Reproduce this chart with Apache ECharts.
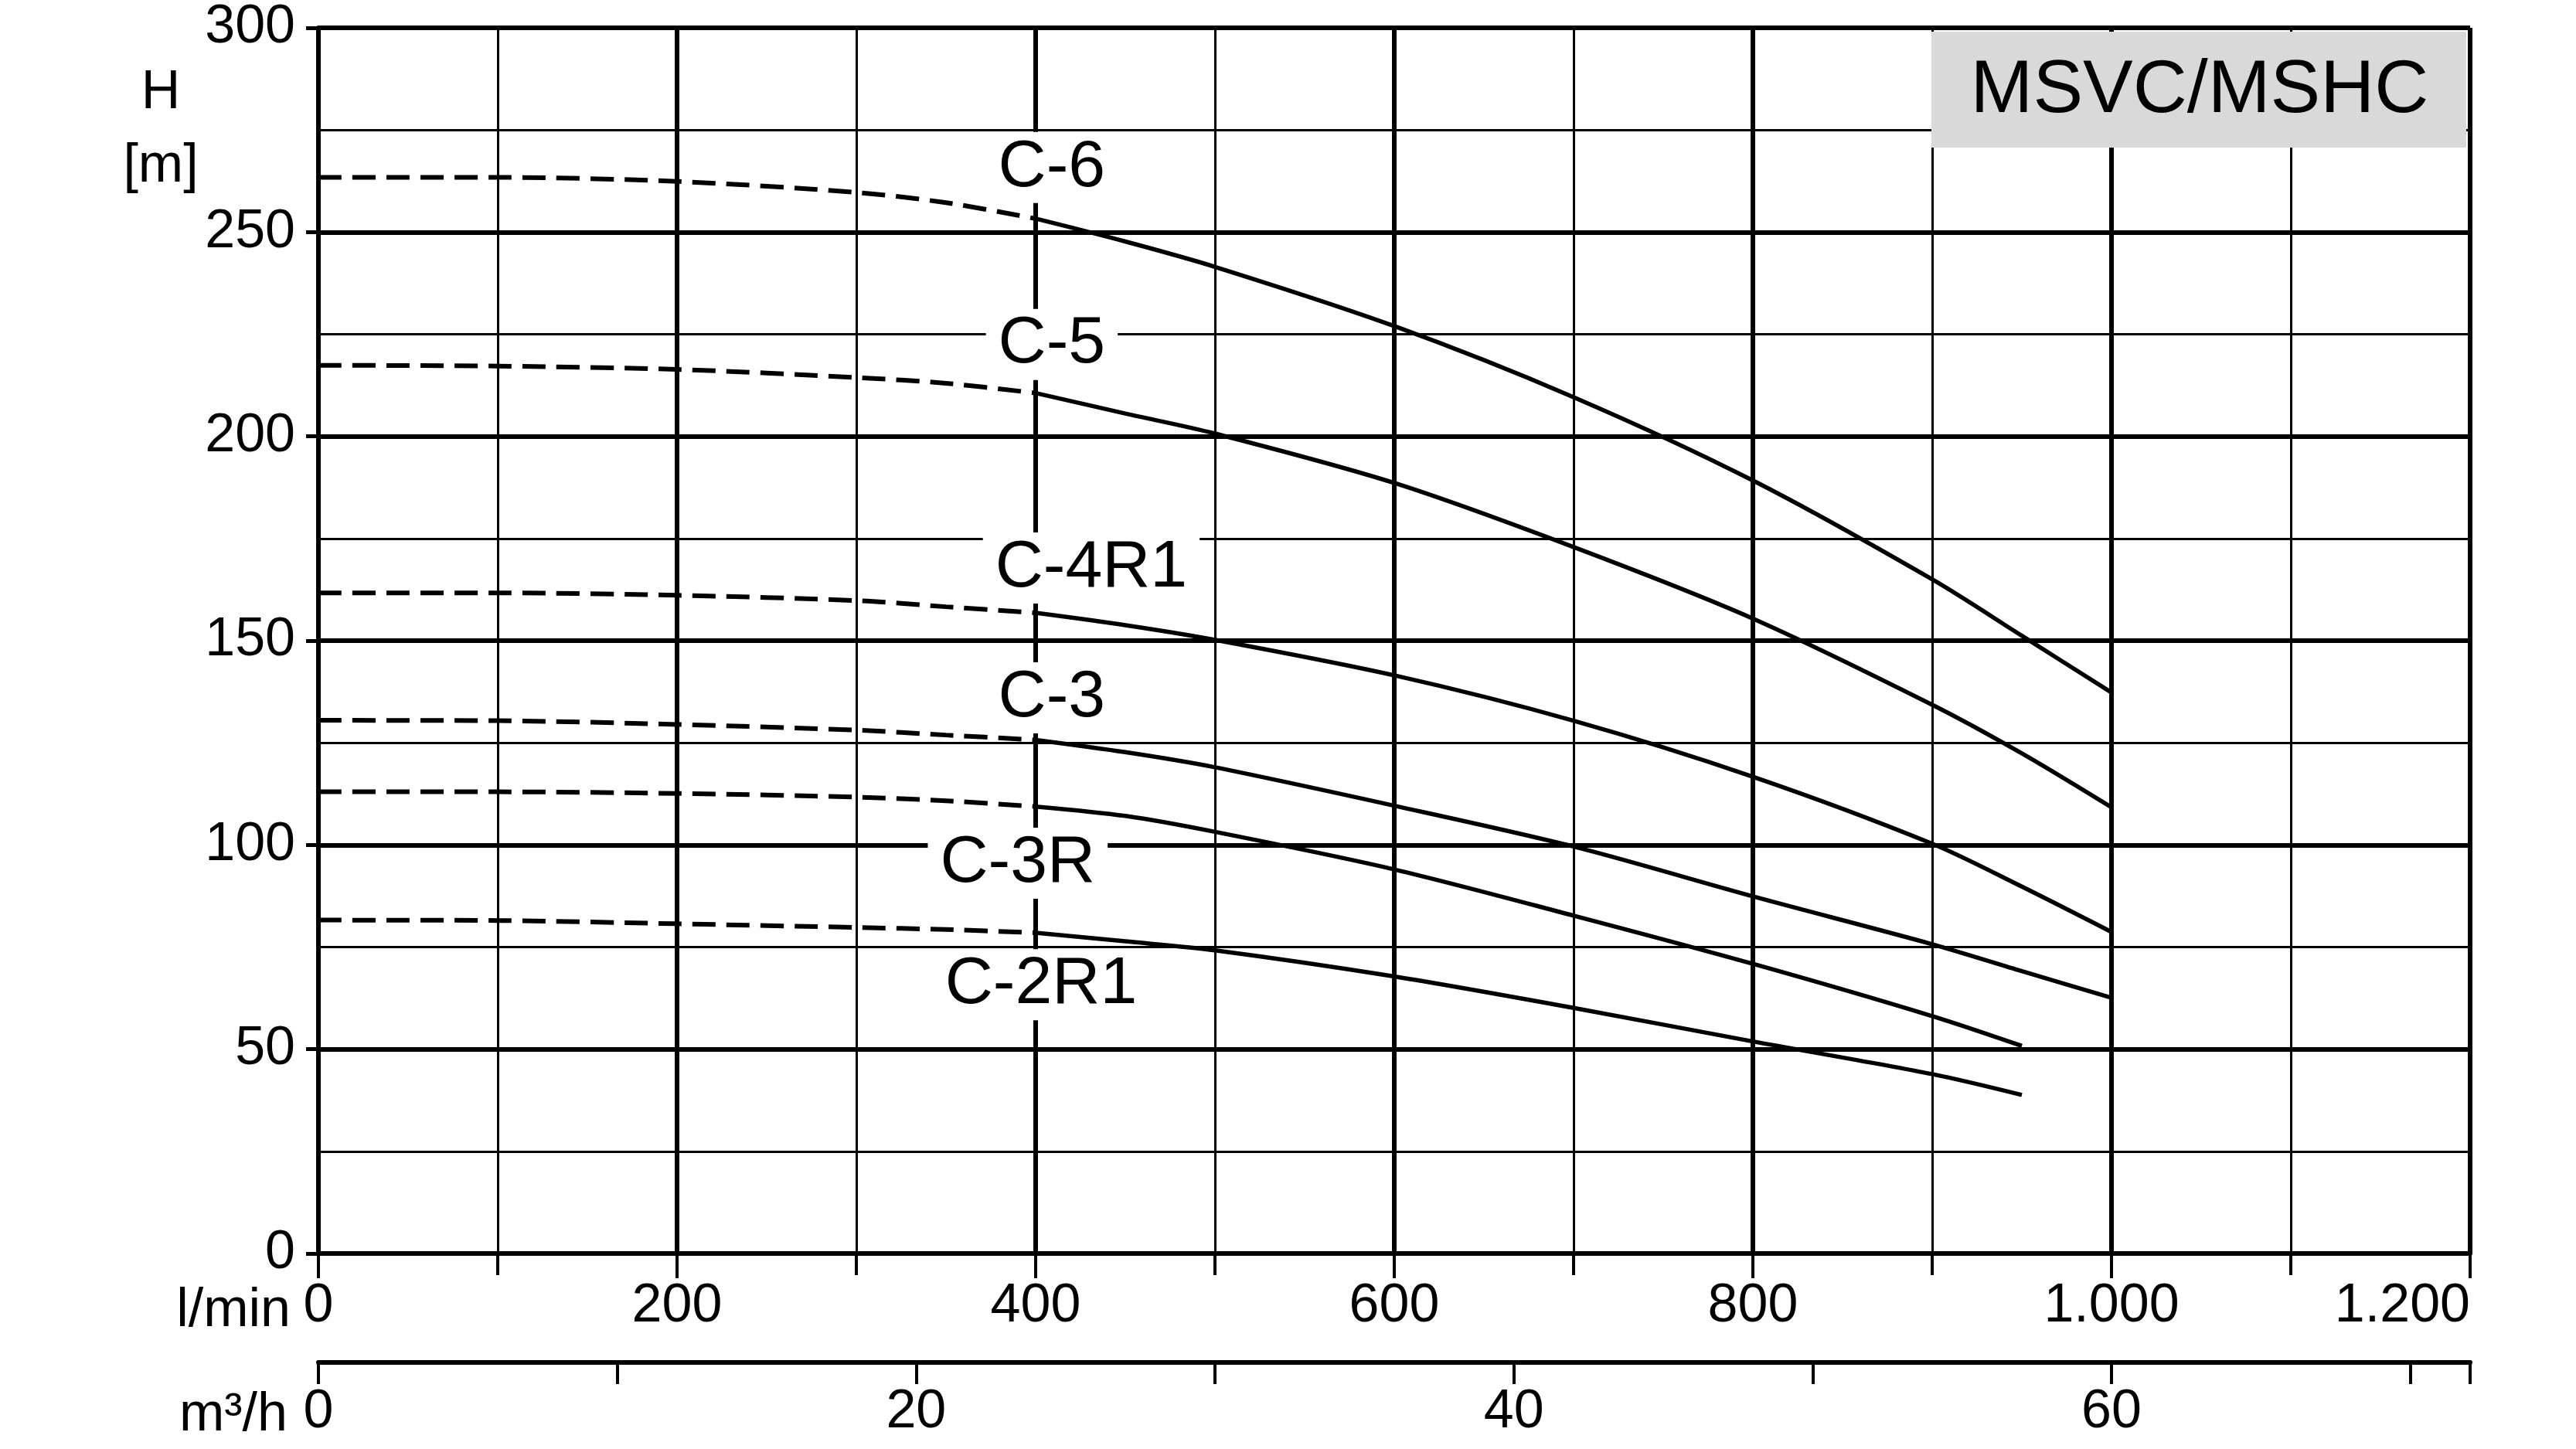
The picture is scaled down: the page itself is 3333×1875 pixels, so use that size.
<!DOCTYPE html>
<html lang="de">
<head>
  <meta charset="UTF-8">
  <title>MSVC/MSHC Kennlinien</title>
  <style>
    * { margin: 0; padding: 0; }
    html, body { width: 100%; height: 100%; background: #fff; }
    #chart { width: 3333px; height: 1875px; }
  </style>
</head>
<body>
  <div id="chart"></div>
  <script src="https://cdn.jsdelivr.net/npm/echarts@6/dist/echarts.min.js"></script>
  <script>
    // Förderstrom-Stützstellen [l/min]
    const qDashed = [0, 100, 200, 300, 350, 400];
    const qSolid = [400, 450, 500, 600, 700, 800, 900, 950, 1000];

    // Förderhöhe H [m], gestrichelter Anfangsbereich
    const hC6Dashed = [263.4, 263.4, 262.4, 259.7, 257.2, 253.3];
    const hC5Dashed = [217.4, 217.2, 216.4, 214.4, 213.0, 210.6];
    const hC4R1Dashed = [161.7, 161.7, 161.1, 159.8, 158.3, 156.8];
    const hC3Dashed = [130.5, 130.4, 129.5, 128.1, 126.9, 125.7];
    const hC3RDashed = [113.0, 113.0, 112.6, 111.7, 110.8, 109.4];
    const hC2R1Dashed = [81.6, 81.5, 80.7, 79.8, 79.3, 78.5];

    // Förderhöhe H [m], Arbeitsbereich
    const hC6Solid = [253.3, 247.7, 241.5, 227.0, 209.6, 189.2, 165.0, 151.2, 137.3];
    const hC5Solid = [210.6, 205.6, 200.7, 188.6, 172.9, 155.4, 134.3, 122.4, 109.2];
    const hC4R1Solid = [156.8, 153.8, 150.2, 141.5, 130.4, 116.7, 100.3, 89.8, 78.7];
    const hC3Solid = [125.7, 122.7, 119.0, 109.6, 99.6, 87.4, 75.7, 69.1, 62.6];
    const hC3RSolid = [109.4, 107.1, 103.2, 94.0, 82.7, 70.9, 58.1, 50.8];
    const hC2R1Solid = [78.5, 76.4, 74.2, 67.8, 60.1, 51.9, 43.9, 38.8];

    const curveNames = ['C-6', 'C-5', 'C-4R1', 'C-3', 'C-3R', 'C-2R1'];
    const dashedH = [hC6Dashed, hC5Dashed, hC4R1Dashed, hC3Dashed, hC3RDashed, hC2R1Dashed];
    const solidH = [hC6Solid, hC5Solid, hC4R1Solid, hC3Solid, hC3RSolid, hC2R1Solid];

    // wo die Typbezeichnung steht (in l/min und m)
    const labelQ = [409, 409, 431, 409, 390, 403];
    const labelH = [265.8, 222.5, 167.8, 136.0, 95.5, 65.8];

    const font = "'Liberation Sans', Arial, Helvetica, sans-serif";
    const black = '#000';

    function pairs(qs, hs) {
      return hs.map((h, i) => [qs[i], h]);
    }

    function thousands(v) {
      return v >= 1000 ? String(v).replace(/(\d)(\d{3})$/, '$1.$2') : String(v);
    }

    const series = [];
    curveNames.forEach((name, i) => {
      series.push({
        name: name + ' dashed',
        type: 'line',
        data: pairs(qDashed, dashedH[i]),
        smooth: 0.3,
        symbol: 'none',
        silent: true,
        z: 3,
        lineStyle: { color: black, width: 6, type: [30, 14] }
      });
      series.push({
        name: name,
        type: 'line',
        data: pairs(qSolid, solidH[i]),
        smooth: 0.3,
        symbol: 'none',
        silent: true,
        z: 3,
        lineStyle: { color: black, width: 5.5 }
      });
    });

    series.push({
      name: 'labels',
      type: 'scatter',
      symbolSize: 0,
      silent: true,
      z: 5,
      itemStyle: { opacity: 1, color: black },
      data: curveNames.map((n, i) => ({ value: [labelQ[i], labelH[i]], name: n })),
      label: {
        show: true,
        position: 'inside',
        formatter: p => p.name,
        color: black,
        opacity: 1,
        fontFamily: font,
        fontSize: 86,
        lineHeight: 92,
        backgroundColor: '#fff',
        padding: [0, 16]
      }
    });

    const chart = echarts.init(document.getElementById('chart'));
    chart.setOption({
      animation: false,
      backgroundColor: '#fff',
      grid: { left: 412, right: 137, top: 36, bottom: 253, containLabel: false },
      xAxis: [
        {
          type: 'value', min: 0, max: 1200, interval: 200, position: 'bottom',
          axisLine: { show: true, onZero: false, lineStyle: { color: black, width: 6 } },
          axisTick: { show: true, length: 32, lineStyle: { color: black, width: 4 } },
          axisLabel: {
            color: black, fontFamily: font, fontSize: 70, margin: 34,
            formatter: thousands, alignMaxLabel: 'right'
          },
          splitLine: { show: true, lineStyle: { color: black, width: 6 } }
        },
        {
          type: 'value', min: 0, max: 1200, interval: 100, position: 'bottom',
          axisLine: { show: false },
          axisTick: { show: true, length: 28, lineStyle: { color: black, width: 4 } },
          axisLabel: { show: false },
          splitLine: { show: true, lineStyle: { color: black, width: 3 } }
        },
        {
          type: 'value', min: 0, max: 72, interval: 10, position: 'bottom', offset: 141,
          axisLine: { show: true, onZero: false, lineStyle: { color: black, width: 6 } },
          axisTick: { show: true, length: 28, lineStyle: { color: black, width: 4 } },
          axisLabel: {
            color: black, fontFamily: font, fontSize: 70, margin: 30,
            formatter: v => (v % 20 === 0 ? String(v) : '')
          },
          splitLine: { show: false }
        }
      ],
      yAxis: [
        {
          type: 'value', min: 0, max: 300, interval: 50, position: 'left',
          axisLine: { show: true, onZero: false, lineStyle: { color: black, width: 6 } },
          axisTick: { show: true, length: 16, lineStyle: { color: black, width: 5 } },
          axisLabel: { color: black, fontFamily: font, fontSize: 70, margin: 30 },
          splitLine: { show: true, lineStyle: { color: black, width: 6 } }
        },
        {
          type: 'value', min: 0, max: 300, interval: 25, position: 'left',
          axisLine: { show: false },
          axisTick: { show: false },
          axisLabel: { show: false },
          splitLine: { show: true, lineStyle: { color: black, width: 3 } }
        }
      ],
      graphic: [
        {
          type: 'rect', z: 50,
          shape: { x: 2499, y: 41, width: 692, height: 150 },
          style: { fill: '#d9d9d9' }
        },
        {
          type: 'text', z: 51,
          style: {
            text: 'MSVC/MSHC', x: 2846, y: 118, fill: black,
            font: '97px ' + font, textAlign: 'center', textVerticalAlign: 'middle'
          }
        },
        {
          type: 'text', z: 51,
          style: {
            text: 'H', x: 208, y: 121, fill: black,
            font: '70px ' + font, textAlign: 'center', textVerticalAlign: 'middle'
          }
        },
        {
          type: 'text', z: 51,
          style: {
            text: '[m]', x: 208, y: 216, fill: black,
            font: '70px ' + font, textAlign: 'center', textVerticalAlign: 'middle'
          }
        },
        {
          type: 'text', z: 51,
          style: {
            text: 'l/min', x: 376, y: 1697, fill: black,
            font: '70px ' + font, textAlign: 'right', textVerticalAlign: 'middle'
          }
        },
        {
          type: 'text', z: 51,
          style: {
            text: 'm³/h', x: 372, y: 1832, fill: black,
            font: '70px ' + font, textAlign: 'right', textVerticalAlign: 'middle'
          }
        }
      ],
      series: series
    });
  </script>
</body>
</html>
